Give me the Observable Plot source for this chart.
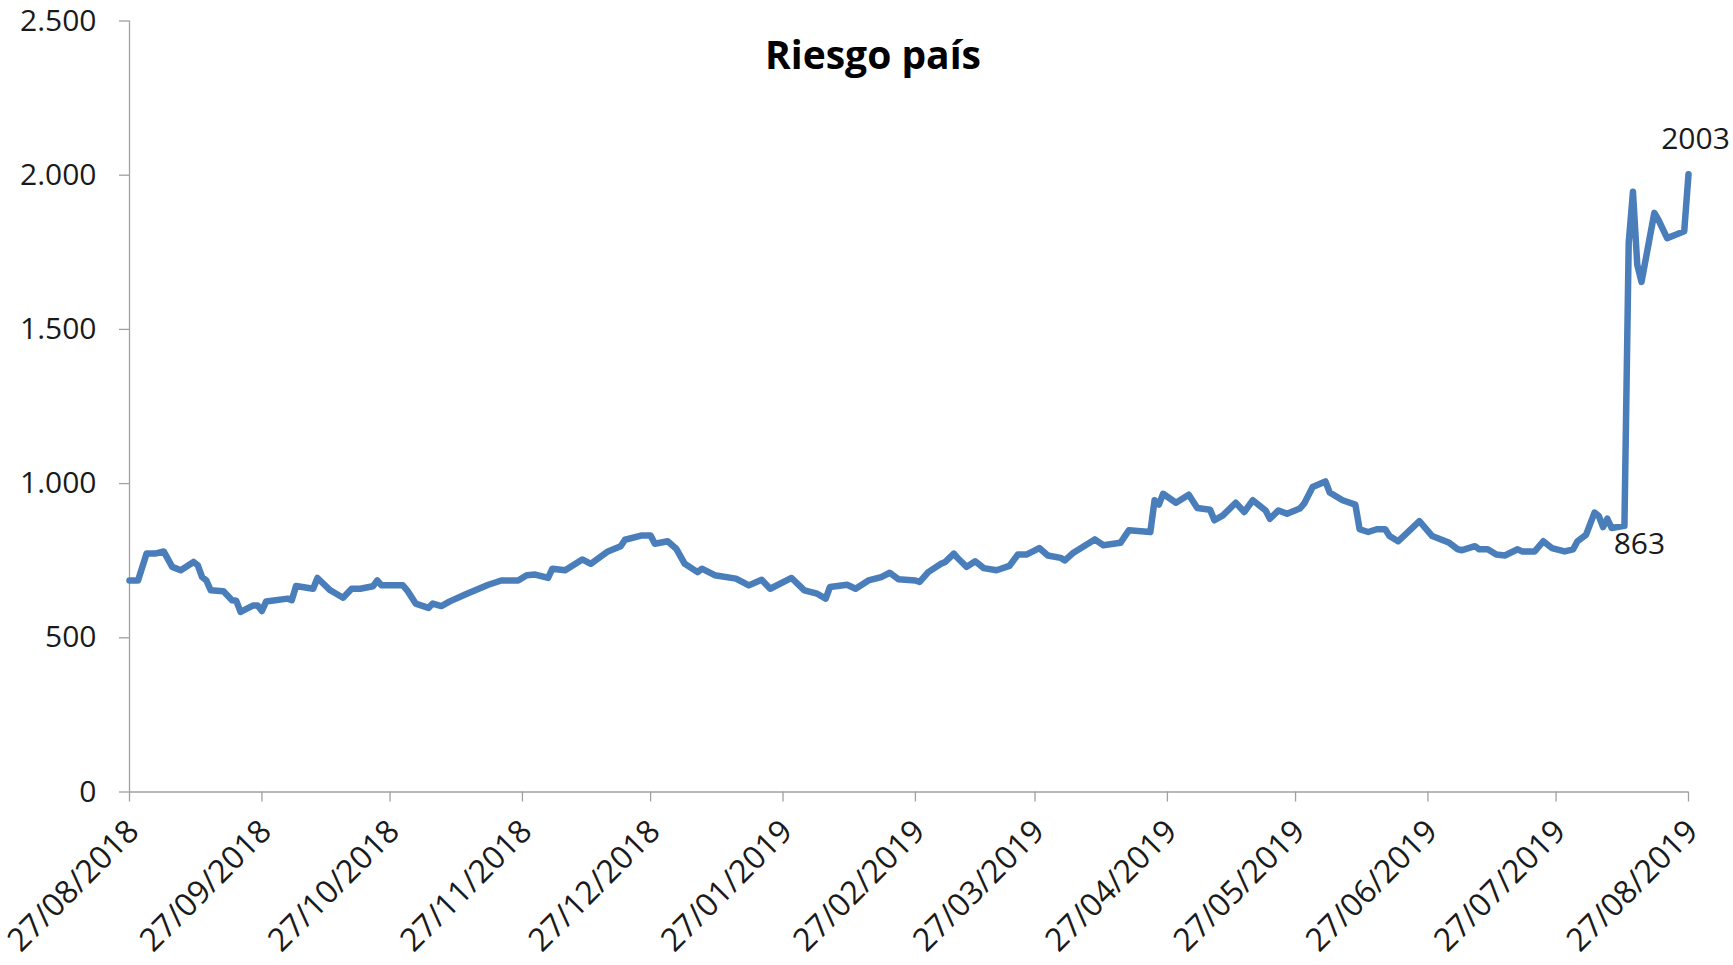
<!DOCTYPE html>
<html>
<head>
<meta charset="utf-8">
<script src="https://cdn.jsdelivr.net/npm/d3@7"></script>
<script src="https://cdn.jsdelivr.net/npm/@observablehq/plot@0.6"></script>
<style>
  html, body { margin: 0; padding: 0; background: #fff; overflow: hidden; }
  #wrap { position: relative; width: 1733px; height: 965px; }
  #title { position: absolute; left: 873px; top: 34px; transform: translateX(-50%);
    font-family: "Open Sans", sans-serif; font-weight: 700; font-size: 39px; line-height: 1; color: #000; white-space: nowrap; }
</style>
</head>
<body>
<div id="wrap">
  <div id="chart"></div>
  <div id="title">Riesgo país</div>
</div>
<script>
// ---- data ----
const startDate = "27/08/2018";
const dayOffsets = [0,2,4,6,8,10,12,15,16,17,18,19,22,24,25,26,29,30,31,32,37,38,39,43,44,47,50,52,54,57,58,59,64,65,67,70,71,73,75,79,84,86,87,91,93,95,98,99,102,106,108,112,115,116,120,122,123,126,128,130,133,134,137,142,145,148,150,155,158,161,163,164,168,170,173,176,178,180,184,185,187,190,191,193,194,196,198,200,203,206,208,210,213,215,218,219,221,226,228,232,234,239,240,241,242,245,248,250,253,254,256,259,261,263,266,267,269,271,274,275,277,280,281,284,287,288,290,292,294,295,297,302,305,309,311,312,315,316,318,320,322,325,326,329,331,333,336,338,339,341,343,344,345,346,347,350,351,352,353,354,357,358,360,362,364,365];
const riesgoPais = [686,686,773,773,780,730,719,746,735,697,686,654,651,622,620,584,605,605,587,618,627,622,668,659,694,654,630,659,659,667,686,670,670,654,611,597,611,603,618,643,672,681,686,686,703,705,694,724,719,754,740,780,797,818,832,832,805,813,789,740,713,724,703,692,670,688,659,694,654,643,627,665,672,659,686,697,711,690,686,681,713,740,746,773,757,730,748,726,719,733,770,770,791,767,759,751,776,819,800,808,849,843,946,932,967,938,964,921,915,881,897,938,908,946,913,886,913,902,919,935,989,1007,971,946,932,852,843,852,852,830,813,878,830,808,787,784,797,787,787,770,767,787,780,780,813,791,780,787,813,834,906,895,859,886,856,863,1780,1946,1710,1654,1878,1854,1796,1807,1818,2003];
const xTickLabels = ["27/08/2018","27/09/2018","27/10/2018","27/11/2018","27/12/2018","27/01/2019","27/02/2019","27/03/2019","27/04/2019","27/05/2019","27/06/2019","27/07/2019","27/08/2019"];
const yTicks = [0, 500, 1000, 1500, 2000, 2500];
const annotDays = [350, 365];
const annotValues = [863, 2003];
const annotLabels = ["863", "2003"];

// ---- build ----
const parse = d3.utcParse("%d/%m/%Y");
const start = parse(startDate);
const data = dayOffsets.map((d, i) => ({date: d3.utcDay.offset(start, d), value: riesgoPais[i]}));
const xTicks = xTickLabels.map(parse);
const annots = annotDays.map((d, i) => ({date: d3.utcDay.offset(start, d), value: annotValues[i], label: annotLabels[i]}));
const esFmt = d3.formatLocale({decimal: ",", thousands: ".", grouping: [3], currency: ["", ""]}).format(",.0f");
const axisGray = "#a0a0a0";
const textColor = "#1a1a1a";
const font = "'Open Sans', sans-serif";

const chart = Plot.plot({
  width: 1733,
  height: 965,
  marginLeft: 129,
  marginRight: 45,
  marginTop: 20.5,
  marginBottom: 173.5,
  style: {fontFamily: font, fontSize: "30px", background: "#fff", overflow: "visible"},
  x: {type: "utc", domain: [xTicks[0], xTicks[xTicks.length - 1]]},
  y: {domain: [0, 2500]},
  marks: [
    Plot.ruleY([0], {stroke: axisGray, strokeWidth: 1.3}),
    Plot.ruleX([xTicks[0]], {stroke: axisGray, strokeWidth: 1.3}),
    Plot.axisY({ticks: yTicks, tickFormat: esFmt, tickSize: 10, tickPadding: 23, stroke: axisGray, strokeWidth: 1.3, fill: textColor, label: null, fontSize: 30}),
    Plot.axisX({ticks: xTicks, tickFormat: () => "", tickSize: 10, stroke: axisGray, strokeWidth: 1.3, label: null}),
    Plot.axisX({ticks: xTicks, tickFormat: d => d3.utcFormat("%d/%m/%Y")(d), tickSize: 0, tickRotate: -45, tickPadding: 34, dx: 4, fill: textColor, label: null, fontSize: 32}),
    Plot.line(data, {x: "date", y: "value", stroke: "#4a7ebb", strokeWidth: 6.5, strokeLinejoin: "round", strokeLinecap: "round"}),
    Plot.text(annots.slice(0, 1), {x: "date", y: "value", text: "label", dx: 15, dy: 19, fill: textColor, fontSize: 30, textAnchor: "middle"}),
    Plot.text(annots.slice(1), {x: "date", y: "value", text: "label", dx: 7, dy: -35, fill: textColor, fontSize: 30, textAnchor: "middle"})
  ]
});
document.getElementById("chart").appendChild(chart);
</script>
</body>
</html>
